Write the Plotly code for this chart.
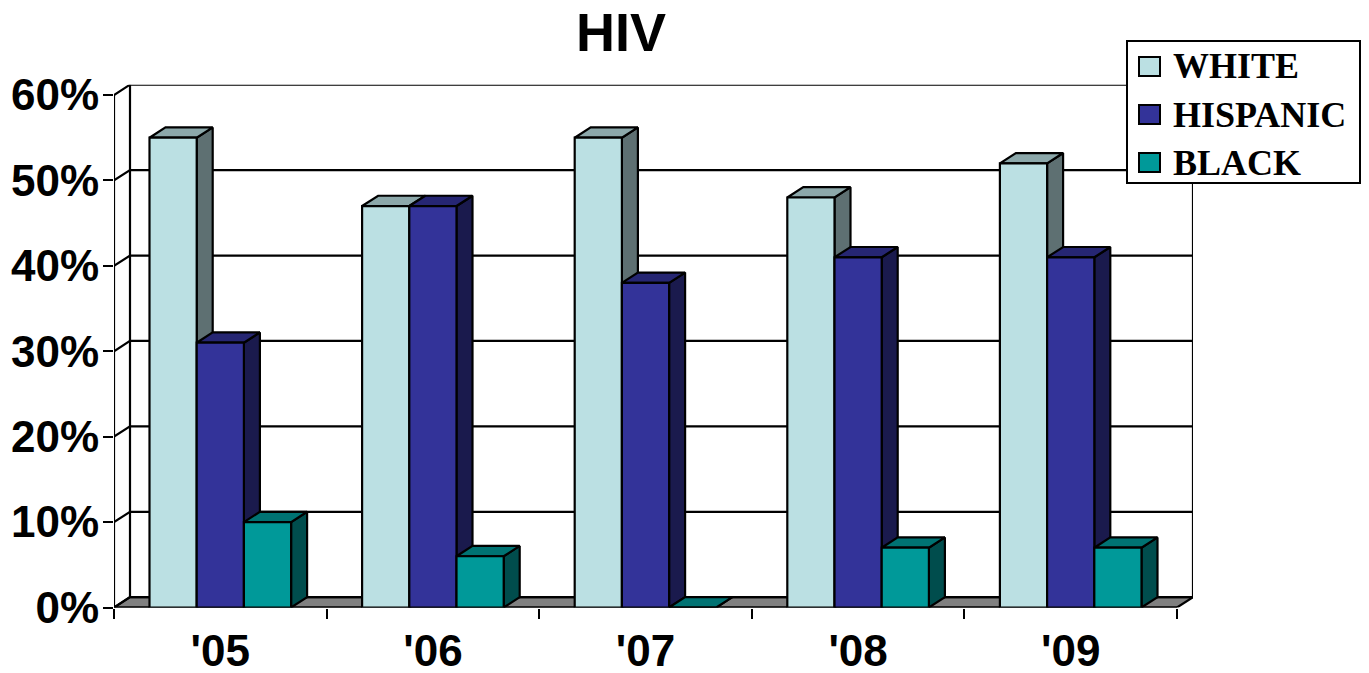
import plotly.graph_objects as go

categories = ["'05", "'06", "'07", "'08", "'09"]
white = [55, 47, 55, 48, 52]
hispanic = [31, 47, 38, 41, 41]
black = [10, 6, 0, 7, 7]
series_names = ["WHITE", "HISPANIC", "BLACK"]
y_ticks = [0, 10, 20, 30, 40, 50, 60]
y_labels = ["0%", "10%", "20%", "30%", "40%", "50%", "60%"]

W, H = 1369, 673
FRONT_L, FRONT_R, FRONT_B = 114, 1177, 607.5
FRONT_T60 = 95
DEPTH_PX_X, DEPTH_PX_Y = 16, 10.3
px_per_cat = (FRONT_R - FRONT_L) / len(categories)
px_per_val = (FRONT_B - FRONT_T60) / 60
DX = DEPTH_PX_X / px_per_cat
DY = DEPTH_PX_Y / px_per_val
X0, X1 = -0.5, len(categories) - 0.5
BARGAP = 0.334
BAR_W = (1 - BARGAP) / 3
INK = "#000000"
LW = 2.2
fronts = ["#BBE0E3", "#333399", "#009999"]
tops = ["#8CA8AA", "#262673", "#007373"]
sides = ["#5E7072", "#1A1A4D", "#004D4D"]
FLOOR = "#808080"


def line_trace(xs, ys, fill=None, color=None):
    return go.Scatter(
        x=xs, y=ys, mode="lines", line=dict(color=INK, width=LW),
        fill="toself" if fill else None, fillcolor=color,
        showlegend=False, hoverinfo="skip", cliponaxis=False,
    )


fig = go.Figure()
# floor
fig.add_trace(line_trace([X0, X1, X1 + DX, X0 + DX, X0], [0, 0, DY, DY, 0], True, FLOOR))
# back wall gridlines, left wall links, verticals
gx, gy = [], []
for v in y_ticks:
    gx += [X0, X0 + DX, X1 + DX, None]
    gy += [v, v + DY, v + DY, None]
gx += [X0 + DX, X0 + DX, None, X1 + DX, X1 + DX, None, X0, X0, None, X0, X1]
gy += [DY, 60 + DY, None, DY, 60 + DY, None, 0, 60, None, 0, 0]
fig.add_trace(line_trace(gx, gy))

# side and top faces, in depth order
for k, values in enumerate([white, hispanic, black]):
    sx, sy, tx, ty = [], [], [], []
    for i, v in enumerate(values):
        left = i + (k - 1.5) * BAR_W
        right = left + BAR_W
        sx += [right, right + DX, right + DX, right, right, None]
        sy += [0, DY, v + DY, v, 0, None]
        tx += [left, left + DX, right + DX, right, left, None]
        ty += [v, v + DY, v + DY, v, v, None]
    fig.add_trace(line_trace(sx, sy, True, sides[k]))
    fig.add_trace(line_trace(tx, ty, True, tops[k]))

# front faces on overlaid axes
for k, values in enumerate([white, hispanic, black]):
    fig.add_trace(go.Bar(
        x=categories, y=values, name=series_names[k], xaxis="x2", yaxis="y2",
        marker=dict(color=fronts[k], line=dict(color=INK, width=LW)),
        showlegend=False,
    ))

dom_x = [FRONT_L / W, (FRONT_R + DEPTH_PX_X) / W]
dom_y = [(H - FRONT_B) / H, (H - (FRONT_T60 - DEPTH_PX_Y)) / H]
tickfont = dict(family="Liberation Sans, Arial, sans-serif", size=44, color="#000000")

# custom legend
def px(x):
    return x / W


def py(y):
    return 1 - y / H


shapes = [dict(type="rect", xref="paper", yref="paper", x0=px(1127), x1=px(1360), y0=py(41), y1=py(183),
               fillcolor="#FFFFFF", line=dict(color=INK, width=2), layer="above")]
annotations = []
for k, name in enumerate(series_names):
    cy = 66.5 + 48 * k
    shapes.append(dict(type="rect", xref="paper", yref="paper", x0=px(1139), x1=px(1160), y0=py(cy - 9.5), y1=py(cy + 9.5),
                       fillcolor=fronts[k], line=dict(color=INK, width=2), layer="above"))
    annotations.append(dict(xref="paper", yref="paper", x=px(1171), y=py(cy), xanchor="left", yanchor="middle",
                            text="<b>%s</b>" % name, showarrow=False,
                            font=dict(family="Liberation Serif, Times New Roman, serif", size=36, color="#000000")))

fig.update_layout(
    width=W, height=H, autosize=False,
    margin=dict(l=0, r=0, t=0, b=0),
    paper_bgcolor="#FFFFFF", plot_bgcolor="#FFFFFF",
    barmode="group", bargap=BARGAP, bargroupgap=0,
    title=dict(text="<b>HIV</b>", x=621 / W, xanchor="center", xref="paper", y=1 - 32 / H, yanchor="middle", yref="paper",
               font=dict(family="Liberation Sans, Arial, sans-serif", size=54, color="#000000"), automargin=False),
    xaxis=dict(domain=dom_x, range=[X0, X1 + DX], visible=False, automargin=False),
    yaxis=dict(domain=dom_y, range=[0, 60 + DY], tickmode="array", tickvals=y_ticks,
               ticktext=["<b>%s</b>" % t for t in y_labels], automargin=False,
               ticks="outside", ticklen=10, tickwidth=2, tickcolor=INK, showgrid=False, zeroline=False,
               showline=False, tickfont=tickfont, ticklabelstandoff=-5),
    xaxis2=dict(domain=dom_x, overlaying="x", type="category", categoryorder="array", categoryarray=categories,
                range=[X0, X1 + DX], tickson="boundaries", ticks="outside", ticklen=10, tickwidth=2, tickcolor=INK,
                showgrid=False, zeroline=False, showline=False, tickfont=tickfont, anchor="y2", side="bottom",
                tickprefix="<b>", ticksuffix="</b>", ticklabelstandoff=13, automargin=False),
    yaxis2=dict(domain=dom_y, overlaying="y", range=[0, 60 + DY], visible=False, anchor="x2", automargin=False),
    shapes=shapes, annotations=annotations,
)

fig.write_html("out.html", config={"displayModeBar": False},
               post_script="document.body.style.margin='0';document.body.style.overflow='hidden';")
